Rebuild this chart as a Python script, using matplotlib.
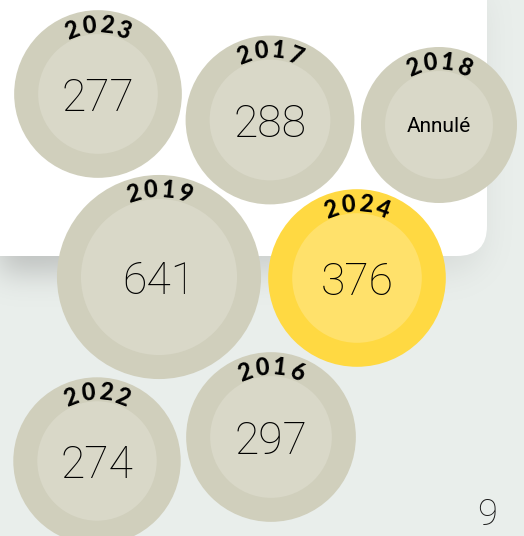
import numpy as np
import matplotlib.pyplot as plt
from matplotlib.patches import Circle, FancyBboxPatch

# data
years = ['2023', '2017', '2018', '2019', '2024', '2022', '2016']
values = [277, 288, None, 641, 376, 274, 297]
labels = ['277', '288', 'Annulé', '641', '376', '274', '297']
highlight = '2024'
page_number = '9'

# bubble layout (pixel centres, y downwards)
centres = [(98, 94), (270, 120), (439, 125), (159, 277), (357, 278), (97, 461), (271, 437)]

W, H = 524, 536
BG = '#e9eeeb'
RING = '#d0cfbc'
INNER = '#d9d8c8'
RING_HL = '#ffd942'
INNER_HL = '#ffe16b'
FONT = ['Lato', 'DejaVu Sans']
NUM_FONT = ['Roboto', 'DejaVu Sans']


def radius(v):
    if v is None:
        return 78
    return 70 + 0.05 * v


def arc_text(ax, cx, cy, rad, text, fs, spacing):
    n = len(text)
    step = np.degrees(spacing / rad)
    for i, ch in enumerate(text):
        ang = (i - (n - 1) / 2) * step
        a = np.radians(ang)
        x = cx + rad * np.sin(a)
        y = cy - rad * np.cos(a)
        ax.text(x, y, ch, rotation=-ang, ha='center', va='center_baseline',
                fontsize=fs, fontweight='black', family=FONT,
                color='black', zorder=5)


fig = plt.figure(figsize=(W / 100, H / 100), dpi=100)
fig.patch.set_facecolor(BG)
ax = fig.add_axes([0, 0, 1, 1])
ax.set_xlim(0, W)
ax.set_ylim(H, 0)
ax.axis('off')

# soft shadow under the white panel
yy, xx = np.mgrid[0:H, 0:W]
px, py, cr, off = 487, 256, 30, 16
mask = ((xx <= px - 4) & (yy <= py + off)).astype(float)
corner = (xx > px - 4 - cr) & (yy > py + off - cr)
d = np.hypot(xx - (px - 4 - cr), yy - (py + off - cr))
mask[corner & (d > cr)] = 0
k = np.exp(-0.5 * (np.arange(-45, 46) / 15.0) ** 2)
k /= k.sum()
blur = np.apply_along_axis(lambda r: np.convolve(r, k, mode='same'), 0, mask)
blur = np.apply_along_axis(lambda r: np.convolve(r, k, mode='same'), 1, blur)
# stronger on the left side
fade = np.clip(1.0 - xx / 700.0, 0.35, 1.0)
shadow = np.zeros((H, W, 4))
shadow[..., :3] = 0.5
shadow[..., 3] = blur * 0.42 * fade
ax.imshow(shadow, extent=(0, W, H, 0), zorder=0, interpolation='bilinear')

panel = FancyBboxPatch((-60, -60), px + 60, py + 60,
                       boxstyle='round,pad=0,rounding_size=30',
                       facecolor='white', edgecolor='none', zorder=1)
ax.add_patch(panel)

for yr, v, lab, (cx, cy) in zip(years, values, labels, centres):
    r = radius(v)
    hl = yr == highlight
    ax.add_patch(Circle((cx, cy), r, facecolor=RING_HL if hl else RING,
                        edgecolor='none', zorder=2))
    ax.add_patch(Circle((cx, cy), r - 24, facecolor=INNER_HL if hl else INNER,
                        edgecolor='none', zorder=3))
    if v is None:
        ax.text(cx, cy, lab, ha='center', va='center_baseline', fontsize=15,
                family=NUM_FONT, color='black', zorder=5)
    else:
        ax.text(cx, cy, lab, ha='center', va='center_baseline', fontsize=32,
                fontweight='light', family=NUM_FONT, color='black', zorder=5)
    arc_text(ax, cx, cy, r - 12, yr, 17, 17.5)

ax.text(487, 511, page_number, ha='center', va='center_baseline', fontsize=26,
        fontweight='light', family=NUM_FONT, color='#1a1a1a')

fig.savefig('out.png', dpi=100, facecolor=BG)
